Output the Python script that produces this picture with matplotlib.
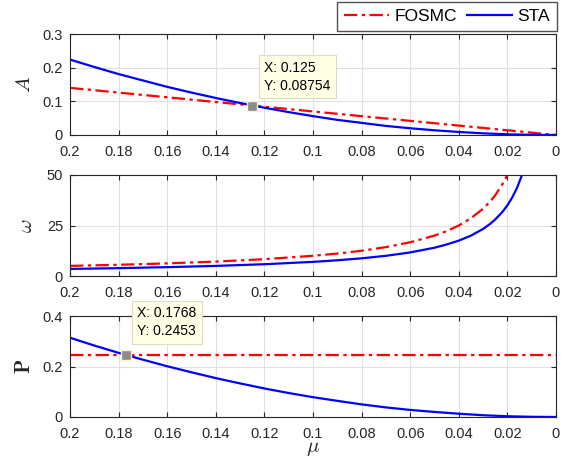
import numpy as np
import matplotlib
matplotlib.use('Agg')
import matplotlib.pyplot as plt

plt.rcParams['font.family'] = ['Liberation Sans', 'DejaVu Sans']
plt.rcParams['mathtext.fontset'] = 'cm'

# amplitude A vs mu
mu = [0.2, 0.19, 0.18, 0.17, 0.16, 0.15, 0.14, 0.13, 0.12, 0.11, 0.10,
      0.09, 0.08, 0.07, 0.06, 0.05, 0.04, 0.03, 0.02, 0.01, 0.0]
A_sta = [0.224, 0.202, 0.181, 0.162, 0.143, 0.126, 0.110, 0.095, 0.081, 0.068, 0.056,
         0.045, 0.036, 0.027, 0.020, 0.014, 0.009, 0.005, 0.002, 0.0006, 0.0]
A_fosmc = [0.14, 0.133, 0.126, 0.119, 0.112, 0.105, 0.098, 0.091, 0.084, 0.077, 0.070,
           0.063, 0.056, 0.049, 0.042, 0.035, 0.028, 0.021, 0.014, 0.007, 0.0]

# frequency omega vs mu
mu_w = [0.2, 0.18, 0.16, 0.14, 0.12, 0.1, 0.09, 0.08, 0.07, 0.06, 0.05, 0.045,
        0.04, 0.035, 0.03, 0.027, 0.025, 0.022, 0.02, 0.018, 0.016, 0.014, 0.013]
w_fosmc = [5.0, 5.56, 6.25, 7.14, 8.33, 10.0, 11.1, 12.5, 14.3, 16.7, 20.0, 22.2,
           25.0, 28.6, 33.3, 37.0, 40.0, 45.5, 50.0, 55.6, 62.5, 71.4, 76.9]
w_sta = [3.5, 3.89, 4.38, 5.0, 5.83, 7.0, 7.78, 8.75, 10.0, 11.67, 14.0, 15.6,
         17.5, 20.0, 23.3, 25.9, 28.0, 31.8, 35.0, 38.9, 43.75, 50.0, 53.8]

# P vs mu
P_sta = [0.314, 0.283, 0.254, 0.227, 0.201, 0.177, 0.154, 0.133, 0.113, 0.095, 0.0785,
         0.064, 0.050, 0.038, 0.028, 0.020, 0.013, 0.007, 0.003, 0.0008, 0.0]
P_fosmc = [0.2453] * len(mu)

xticks = [0.2, 0.18, 0.16, 0.14, 0.12, 0.1, 0.08, 0.06, 0.04, 0.02, 0]
xticklabels = ['0.2', '0.18', '0.16', '0.14', '0.12', '0.1', '0.08', '0.06', '0.04', '0.02', '0']

fig = plt.figure(figsize=(5.77, 4.63), dpi=100)
left, width, height = 70 / 577, 486 / 577, 101 / 463
ax1 = fig.add_axes([left, 1 - 135 / 463, width, height])
ax2 = fig.add_axes([left, 1 - 276 / 463, width, height])
ax3 = fig.add_axes([left, 1 - 417 / 463, width, height])

red_style = dict(color='#ff0000', ls=(0, (6, 2, 1.5, 2)), lw=1.6)
blue_style = dict(color='#0000ff', ls='-', lw=1.6)


def style(ax, yticks, yticklabels, ylim):
    ax.set_xlim(0.2, 0)
    ax.set_ylim(*ylim)
    ax.set_xticks(xticks)
    ax.set_xticklabels(xticklabels)
    ax.set_yticks(yticks)
    ax.set_yticklabels(yticklabels)
    ax.grid(True, color='#e0e0e0', lw=0.8)
    ax.set_axisbelow(True)
    ax.tick_params(direction='in', top=True, right=True, labelsize=10.5,
                   colors='#262626', length=3.5, width=0.8)
    ax.tick_params(axis='x', pad=7)
    ax.tick_params(axis='y', pad=5)
    for s in ax.spines.values():
        s.set_color('#262626')
        s.set_linewidth(0.8)


def datatip(ax, x, y, text, off):
    ax.plot([x], [y], 's', ms=7.5, mfc='#8c8c8c', mec='#f5f5c8', mew=1, zorder=5)
    ax.annotate(text, xy=(x, y), xytext=off, textcoords='offset pixels',
                ha='left', va='bottom', fontsize=10, linespacing=1.35,
                bbox=dict(boxstyle='square,pad=0.4', fc='#ffffe6', ec='#dcdcc4', lw=0.8),
                zorder=6)


l1, = ax1.plot(mu, A_fosmc, **red_style, label='FOSMC')
l2, = ax1.plot(mu, A_sta, **blue_style, label='STA')
style(ax1, [0, 0.1, 0.2, 0.3], ['0', '0.1', '0.2', '0.3'], (0, 0.3))
ax1.set_ylabel(r'$A$', fontsize=15, color='#262626', labelpad=6)
datatip(ax1, 0.125, 0.08754, 'X: 0.125\nY: 0.08754', (12, 13))

ax2.plot(mu_w, w_fosmc, **red_style)
ax2.plot(mu_w, w_sta, **blue_style)
style(ax2, [0, 25, 50], ['0', '25', '50'], (0, 50))
ax2.set_ylabel(r'$\omega$', fontsize=15, color='#262626', labelpad=8)

ax3.plot(mu, P_fosmc, **red_style)
ax3.plot(mu, P_sta, **blue_style)
style(ax3, [0, 0.2, 0.4], ['0', '0.2', '0.4'], (0, 0.4))
ax3.set_ylabel(r'$\mathbf{P}$', fontsize=15, color='#262626', labelpad=6)
ax3.set_xlabel(r'$\mu$', fontsize=15, color='#262626', labelpad=-1)
datatip(ax3, 0.1768, 0.2453, 'X: 0.1768\nY: 0.2453', (11, 17))

fig.legend(handles=[l1, l2], loc='upper right', bbox_to_anchor=(557 / 577, 1 - 2 / 463),
           ncol=2, fontsize=12.5, frameon=True, fancybox=False, edgecolor='#262626',
           handlelength=2.6, columnspacing=0.6, handletextpad=0.3, borderpad=0.4,
           borderaxespad=0)

fig.savefig('out.png', dpi=100)
